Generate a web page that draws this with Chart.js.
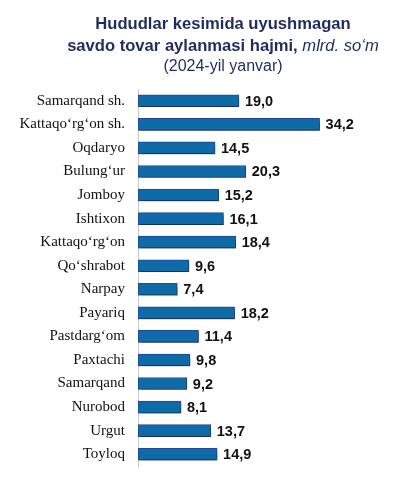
<!DOCTYPE html>
<html>
<head>
<meta charset="utf-8">
<script src="https://cdn.jsdelivr.net/npm/chart.js@4/dist/chart.umd.min.js"></script>
<style>
  html, body { margin: 0; padding: 0; background: #fff; }
  #wrap { position: relative; width: 395px; height: 488px; }
  #title { position: absolute; left: 50px; top: 13px; width: 346px; text-align: center;
           color: #1F2D5E; font-family: "Liberation Sans", Arial, sans-serif; }
  #title .l1, #title .l2 { font-weight: bold; font-size: 16.6px; line-height: 21.5px; white-space: nowrap; }
  #title .l2 i { font-weight: normal; }
  #title .l3 { font-size: 16px; line-height: 20px; }
  canvas { position: absolute; left: 0; top: 0; }
</style>
</head>
<body>
<div id="wrap">
  <canvas id="c" width="395" height="488"></canvas>
  <div id="title">
    <div class="l1">Hududlar kesimida uyushmagan</div>
    <div class="l2">savdo tovar aylanmasi hajmi, <i>mlrd. so‘m</i></div>
    <div class="l3">(2024-yil yanvar)</div>
  </div>
</div>
<script>
const categories = ["Samarqand sh.", "Kattaqo‘rg‘on sh.", "Oqdaryo", "Bulung‘ur", "Jomboy", "Ishtixon",
  "Kattaqo‘rg‘on", "Qo‘shrabot", "Narpay", "Payariq", "Pastdarg‘om", "Paxtachi", "Samarqand",
  "Nurobod", "Urgut", "Toyloq"];
const values = [19.0, 34.2, 14.5, 20.3, 15.2, 16.1, 18.4, 9.6, 7.4, 18.2, 11.4, 9.8, 9.2, 8.1, 13.7, 14.9];

const shadowPlugin = {
  id: 'barShadow',
  beforeDatasetDraw(chart) {
    const ctx = chart.ctx;
    ctx.save();
    ctx.shadowColor = 'rgba(0,0,0,0.45)';
    ctx.shadowBlur = 3;
    ctx.shadowOffsetX = 1;
    ctx.shadowOffsetY = 3;
  },
  afterDatasetDraw(chart) {
    chart.ctx.restore();
  }
};

const labelPlugin = {
  id: 'valueLabels',
  afterDatasetsDraw(chart) {
    const ctx = chart.ctx;
    const meta = chart.getDatasetMeta(0);
    ctx.save();
    ctx.font = 'bold 14.5px "Liberation Sans", Arial, sans-serif';
    ctx.fillStyle = '#111111';
    ctx.textAlign = 'left';
    ctx.textBaseline = 'middle';
    meta.data.forEach((bar, i) => {
      const txt = values[i].toFixed(1).replace('.', ',');
      ctx.fillText(txt, bar.x + 6, bar.y + 1);
    });
    ctx.restore();
  }
};

new Chart(document.getElementById('c'), {
  type: 'bar',
  data: {
    labels: categories,
    datasets: [{
      data: values,
      backgroundColor: '#0F6AA8',
      borderColor: '#24479A',
      borderWidth: 1,
      borderSkipped: false,
      barThickness: 12
    }]
  },
  options: {
    indexAxis: 'y',
    responsive: false,
    animation: false,
    devicePixelRatio: 1,
    layout: { padding: { top: 89, bottom: 14, left: 0, right: 44.6 } },
    plugins: { legend: { display: false }, tooltip: { enabled: false }, title: { display: false } },
    scales: {
      x: { display: false, min: 0, max: 40 },
      y: {
        afterFit(scale) { scale.width = 138; },
        grid: { display: false, drawTicks: false },
        border: { display: true, color: '#C8C8C8', width: 1 },
        ticks: {
          color: '#111111',
          padding: 13,
          font: { family: '"Liberation Serif", "Times New Roman", serif', size: 15 }
        }
      }
    }
  },
  plugins: [shadowPlugin, labelPlugin]
});
</script>
</body>
</html>
